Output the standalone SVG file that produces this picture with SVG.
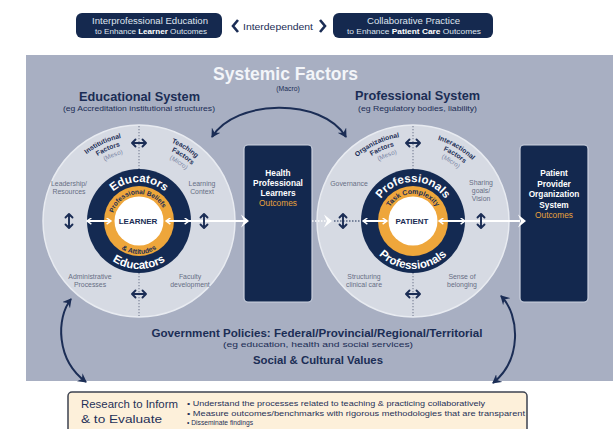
<svg xmlns="http://www.w3.org/2000/svg" xmlns:xlink="http://www.w3.org/1999/xlink" width="613" height="429" viewBox="0 0 613 429">
<style>
text{font-family:"Liberation Sans",Arial,sans-serif}
.navy{fill:#1b2d55}
.wt{fill:#ffffff}
.b{font-weight:bold}
.gray{fill:#676e84;font-size:6.9px}
.fac{fill:#1b2d55;font-size:6.8px;font-weight:bold}
.meso{fill:#7a86a3;font-size:6.3px}
.outc{fill:#e8a23c}
.dot{stroke:#6f778c;stroke-width:1;stroke-dasharray:1.3 1.7;fill:none}
.curve{stroke:#1b2d55;stroke-width:2;fill:none;marker-start:url(#ah);marker-end:url(#ah)}
.wline{stroke:#ffffff;stroke-width:2;fill:none}
.dbl{stroke:#1b2d55;stroke-width:1.9;fill:none;stroke-linecap:round;stroke-linejoin:round}
</style>
<defs>
<marker id="ah" viewBox="0 0 10 10" refX="8" refY="5" markerWidth="10" markerHeight="10" markerUnits="userSpaceOnUse" orient="auto-start-reverse">
<path d="M0,0 L9,5 L0,10 L3,5 z" fill="#1b2d55"/>
</marker>
<marker id="wh" viewBox="0 0 8 8" refX="6" refY="4" markerWidth="7" markerHeight="7" markerUnits="userSpaceOnUse" orient="auto-start-reverse">
<path d="M1,0.5 L6,4 L1,7.5" fill="none" stroke="#ffffff" stroke-width="1.6"/>
</marker>
<g id="dblh"><path class="dbl" d="M-6.5,0 H6.5 M-3.5,-3.5 L-7,0 L-3.5,3.5 M3.5,-3.5 L7,0 L3.5,3.5"/></g>
<g id="dblv"><path class="dbl" d="M0,-6.5 V6.5 M-3.5,-3.5 L0,-7 L3.5,-3.5 M-3.5,3.5 L0,7 L3.5,3.5"/></g>
<path id="wchev" d="M-7,-6.5 L1,0 L-7,6.5 L-4,0 z" fill="#ffffff"/>
<path id="L85" d="M54,221 A85,85 0 0 1 224,221"/>
<path id="L77" d="M62,221 A77,77 0 0 1 216,221"/>
<path id="L69" d="M70,221 A69,69 0 0 1 208,221"/>
<path id="L39" d="M100,221 A39,39 0 0 1 178,221"/>
<path id="L48b" d="M91,221 A48,48 0 0 0 187,221"/>
<path id="L27" d="M112,221 A27,27 0 0 1 166,221"/>
<path id="L33b" d="M106,221 A33,33 0 0 0 172,221"/>
<path id="R85" d="M328,221 A85,85 0 0 1 498,221"/>
<path id="R77" d="M336,221 A77,77 0 0 1 490,221"/>
<path id="R69" d="M344,221 A69,69 0 0 1 482,221"/>
<path id="R39" d="M374,221 A39,39 0 0 1 452,221"/>
<path id="R48b" d="M365,221 A48,48 0 0 0 461,221"/>
<path id="R27" d="M386,221 A27,27 0 0 1 440,221"/>
</defs>

<rect x="0" y="0" width="613" height="429" fill="#ffffff"/>

<!-- top header -->
<g id="ipe-box">
<rect x="76" y="13" width="146" height="25" rx="6" fill="#15294f"/>
<text x="92" y="24" font-size="8.5" fill="#dfe4ee" textLength="116" lengthAdjust="spacingAndGlyphs">Interprofessional Education</text>
<text x="95" y="34" font-size="6.8" fill="#dfe4ee" textLength="112" lengthAdjust="spacingAndGlyphs">to Enhance <tspan font-weight="bold" fill="#ffffff">Learner</tspan> Outcomes</text>
</g>
<g id="interdependent">
<path d="M238,20 L233,26 L238,32" stroke="#1b2d55" stroke-width="2.6" fill="none"/>
<text x="243" y="29.5" font-size="9.3" fill="#1b2d55" textLength="70" lengthAdjust="spacingAndGlyphs">Interdependent</text>
<path d="M320,20 L325,26 L320,32" stroke="#1b2d55" stroke-width="2.6" fill="none"/>
</g>
<g id="cp-box">
<rect x="333" y="13" width="160" height="25" rx="6" fill="#15294f"/>
<text x="367" y="24" font-size="8.5" fill="#dfe4ee" textLength="93" lengthAdjust="spacingAndGlyphs">Collaborative Practice</text>
<text x="347" y="34" font-size="6.8" fill="#dfe4ee" textLength="134" lengthAdjust="spacingAndGlyphs">to Enhance <tspan font-weight="bold" fill="#ffffff">Patient Care</tspan> Outcomes</text>
</g>

<!-- panel -->
<rect x="26" y="55" width="587" height="326" fill="#a8afc2"/>

<g id="titles">
<text x="213" y="80" font-size="17.5" font-weight="bold" fill="#f3f5f9" textLength="145" lengthAdjust="spacingAndGlyphs">Systemic Factors</text>
<text x="288" y="91" text-anchor="middle" font-size="6.8" class="navy">(Macro)</text>
<text x="79" y="101" font-size="12.5" font-weight="bold" class="navy" textLength="121" lengthAdjust="spacingAndGlyphs">Educational System</text>
<text x="63" y="111" font-size="7.8" class="navy" textLength="152" lengthAdjust="spacingAndGlyphs">(eg Accreditation institutional structures)</text>
<text x="355" y="100" font-size="12.5" font-weight="bold" class="navy" textLength="125" lengthAdjust="spacingAndGlyphs">Professional System</text>
<text x="358" y="111" font-size="7.8" class="navy" textLength="119" lengthAdjust="spacingAndGlyphs">(eg Regulatory bodies, liability)</text>
</g>

<!-- left circle -->
<g id="edu-circle">
<circle cx="139" cy="221" r="96" fill="#d6dae3" stroke="#e8ebf1" stroke-width="1.5"/>
<line class="dot" x1="139" y1="126" x2="139" y2="316"/>
<text class="fac"><textPath href="#L85" startOffset="36%" text-anchor="middle">Institutional</textPath></text>
<text class="fac"><textPath href="#L77" startOffset="37%" text-anchor="middle">Factors</textPath></text>
<text class="meso"><textPath href="#L69" startOffset="38%" text-anchor="middle">(Meso)</textPath></text>
<text class="fac"><textPath href="#L85" startOffset="68%" text-anchor="middle">Teaching</textPath></text>
<text class="fac"><textPath href="#L77" startOffset="69%" text-anchor="middle">Factors</textPath></text>
<text class="meso"><textPath href="#L69" startOffset="69%" text-anchor="middle">(Micro)</textPath></text>
<text class="gray" text-anchor="middle"><tspan x="69" y="186">Leadership/</tspan><tspan x="69" y="194">Resources</tspan></text>
<text class="gray" text-anchor="middle"><tspan x="202" y="186">Learning</tspan><tspan x="202" y="194">Context</tspan></text>
<text class="gray" text-anchor="middle"><tspan x="90" y="279">Administrative</tspan><tspan x="90" y="287">Processes</tspan></text>
<text class="gray" text-anchor="middle"><tspan x="190" y="279">Faculty</tspan><tspan x="190" y="287">development</tspan></text>
<circle cx="139" cy="221" r="52" fill="#142a52"/>
<circle cx="139" cy="221" r="35" fill="#eea63b"/>
<circle cx="139" cy="221" r="24.5" fill="#ffffff"/>
<text class="wt b" font-size="11.5"><textPath href="#L39" startOffset="50%" text-anchor="middle">Educators</textPath></text>
<text class="wt b" font-size="11.5"><textPath href="#L48b" startOffset="50%" text-anchor="middle">Educators</textPath></text>
<text class="navy b" font-size="6.6"><textPath href="#L27" startOffset="47%" text-anchor="middle">Professional Beliefs</textPath></text>
<text class="navy b" font-size="7"><textPath href="#L33b" startOffset="50%" text-anchor="middle">&amp; Attitudes</textPath></text>
<text x="138" y="224" text-anchor="middle" font-size="8" font-weight="bold" class="navy">LEARNER</text>
</g>

<!-- right circle -->
<g id="prof-circle">
<circle cx="413" cy="221" r="96" fill="#d6dae3" stroke="#e8ebf1" stroke-width="1.5"/>
<line class="dot" x1="413" y1="126" x2="413" y2="316"/>
<text class="fac"><textPath href="#R85" startOffset="36%" text-anchor="middle">Organizational</textPath></text>
<text class="fac"><textPath href="#R77" startOffset="37%" text-anchor="middle">Factors</textPath></text>
<text class="meso"><textPath href="#R69" startOffset="38%" text-anchor="middle">(Meso)</textPath></text>
<text class="fac"><textPath href="#R85" startOffset="67%" text-anchor="middle">Interactional</textPath></text>
<text class="fac"><textPath href="#R77" startOffset="68%" text-anchor="middle">Factors</textPath></text>
<text class="meso"><textPath href="#R69" startOffset="68%" text-anchor="middle">(Micro)</textPath></text>
<text class="gray" text-anchor="middle"><tspan x="349" y="186">Governance</tspan></text>
<text class="gray" text-anchor="middle"><tspan x="481" y="185">Sharing</tspan><tspan x="481" y="193">goals/</tspan><tspan x="481" y="201">Vision</tspan></text>
<text class="gray" text-anchor="middle"><tspan x="364" y="279">Structuring</tspan><tspan x="364" y="287">clinical care</tspan></text>
<text class="gray" text-anchor="middle"><tspan x="462" y="279">Sense of</tspan><tspan x="462" y="287">belonging</tspan></text>
<circle cx="413" cy="221" r="52" fill="#142a52"/>
<circle cx="413" cy="221" r="35" fill="#eea63b"/>
<circle cx="413" cy="221" r="24.5" fill="#ffffff"/>
<text class="wt b" font-size="11.5"><textPath href="#R39" startOffset="50%" text-anchor="middle">Professionals</textPath></text>
<text class="wt b" font-size="11.5"><textPath href="#R48b" startOffset="50%" text-anchor="middle">Professionals</textPath></text>
<text class="navy b" font-size="7"><textPath href="#R27" startOffset="50%" text-anchor="middle">Task Complexity</textPath></text>
<text x="412" y="224" text-anchor="middle" font-size="8" font-weight="bold" class="navy">PATIENT</text>
</g>

<!-- outcome boxes -->
<g id="learner-outcomes">
<rect x="244" y="145" width="68" height="157" rx="4" fill="#13284e" stroke="#cdd3e0" stroke-width="1.2"/>
<text text-anchor="middle" font-size="8.3" font-weight="bold" fill="#ffffff"><tspan x="278" y="176">Health</tspan><tspan x="278" y="186">Professional</tspan><tspan x="278" y="196">Learners</tspan></text>
<text x="278" y="206" text-anchor="middle" font-size="8.3" class="outc">Outcomes</text>
</g>
<g id="patient-outcomes">
<rect x="520" y="145" width="68" height="157" rx="4" fill="#13284e" stroke="#cdd3e0" stroke-width="1.2"/>
<text text-anchor="middle" font-size="8.3" font-weight="bold" fill="#ffffff"><tspan x="554" y="176">Patient</tspan><tspan x="554" y="186.5">Provider</tspan><tspan x="554" y="197">Organization</tspan><tspan x="554" y="207.5">System</tspan></text>
<text x="554" y="218" text-anchor="middle" font-size="8.3" class="outc">Outcomes</text>
</g>

<!-- connectors -->
<g id="connectors">
<line class="wline" x1="87" y1="221" x2="111" y2="221" marker-start="url(#wh)" marker-end="url(#wh)"/>
<line class="wline" x1="166" y1="221" x2="189" y2="221" marker-start="url(#wh)" marker-end="url(#wh)"/>
<line class="wline" x1="189" y1="221" x2="244" y2="221"/>
<use href="#wchev" x="248" y="221"/>
<line x1="312" y1="221" x2="326" y2="221" stroke="#ffffff" stroke-width="1.6" stroke-dasharray="1.5 1.5"/>
<use href="#wchev" x="331" y="221"/>
<line x1="334" y1="221" x2="362" y2="221" stroke="#1b2d55" stroke-width="1.2" stroke-dasharray="1.5 1.5"/>
<line class="wline" x1="363" y1="221" x2="387" y2="221" marker-start="url(#wh)" marker-end="url(#wh)"/>
<line class="wline" x1="439" y1="221" x2="465" y2="221" marker-start="url(#wh)" marker-end="url(#wh)"/>
<line class="wline" x1="465" y1="221" x2="520" y2="221"/>
<use href="#wchev" x="525" y="221"/>
<use href="#dblv" x="69" y="221"/>
<use href="#dblv" x="204" y="221"/>
<use href="#dblh" x="139" y="143"/>
<use href="#dblh" x="139" y="294"/>
<use href="#dblv" x="343" y="221"/>
<use href="#dblv" x="481" y="221"/>
<use href="#dblh" x="413" y="143"/>
<use href="#dblh" x="413" y="294"/>
<path class="curve" d="M212,137 C235,99 322,97 346,137"/>
<path class="curve" d="M71,299 C56,318 56,360 86,382"/>
<path class="curve" d="M501,296 C520,315 522,360 493,383"/>
</g>

<g id="policies">
<text x="317" y="337" text-anchor="middle" font-size="10.3" font-weight="bold" class="navy" textLength="331" lengthAdjust="spacingAndGlyphs">Government Policies: Federal/Provincial/Regional/Territorial</text>
<text x="318" y="347" text-anchor="middle" font-size="8" class="navy" textLength="190" lengthAdjust="spacingAndGlyphs">(eg education, health and social services)</text>
<text x="318" y="364" text-anchor="middle" font-size="11" font-weight="bold" class="navy" textLength="130" lengthAdjust="spacingAndGlyphs">Social &amp; Cultural Values</text>
</g>

<g id="research">
<rect x="68" y="392" width="459" height="45" rx="4" fill="#fdf0da" stroke="#3d4250" stroke-width="1.5"/>
<text x="81" y="408" font-size="11" fill="#1f3058" textLength="97" lengthAdjust="spacingAndGlyphs">Research to Inform</text>
<text x="81" y="423" font-size="11" fill="#1f3058" textLength="81" lengthAdjust="spacingAndGlyphs">&amp; to Evaluate</text>
<text x="187" y="406" font-size="7.3" fill="#1f3058" textLength="298" lengthAdjust="spacingAndGlyphs">• Understand the processes related to teaching &amp; practicing collaboratively</text>
<text x="187" y="415.5" font-size="7.3" fill="#1f3058" textLength="338" lengthAdjust="spacingAndGlyphs">• Measure outcomes/benchmarks with rigorous methodologies that are transparent</text>
<text x="187" y="425" font-size="7.3" fill="#1f3058" textLength="66" lengthAdjust="spacingAndGlyphs">• Disseminate findings</text>
</g>
</svg>
